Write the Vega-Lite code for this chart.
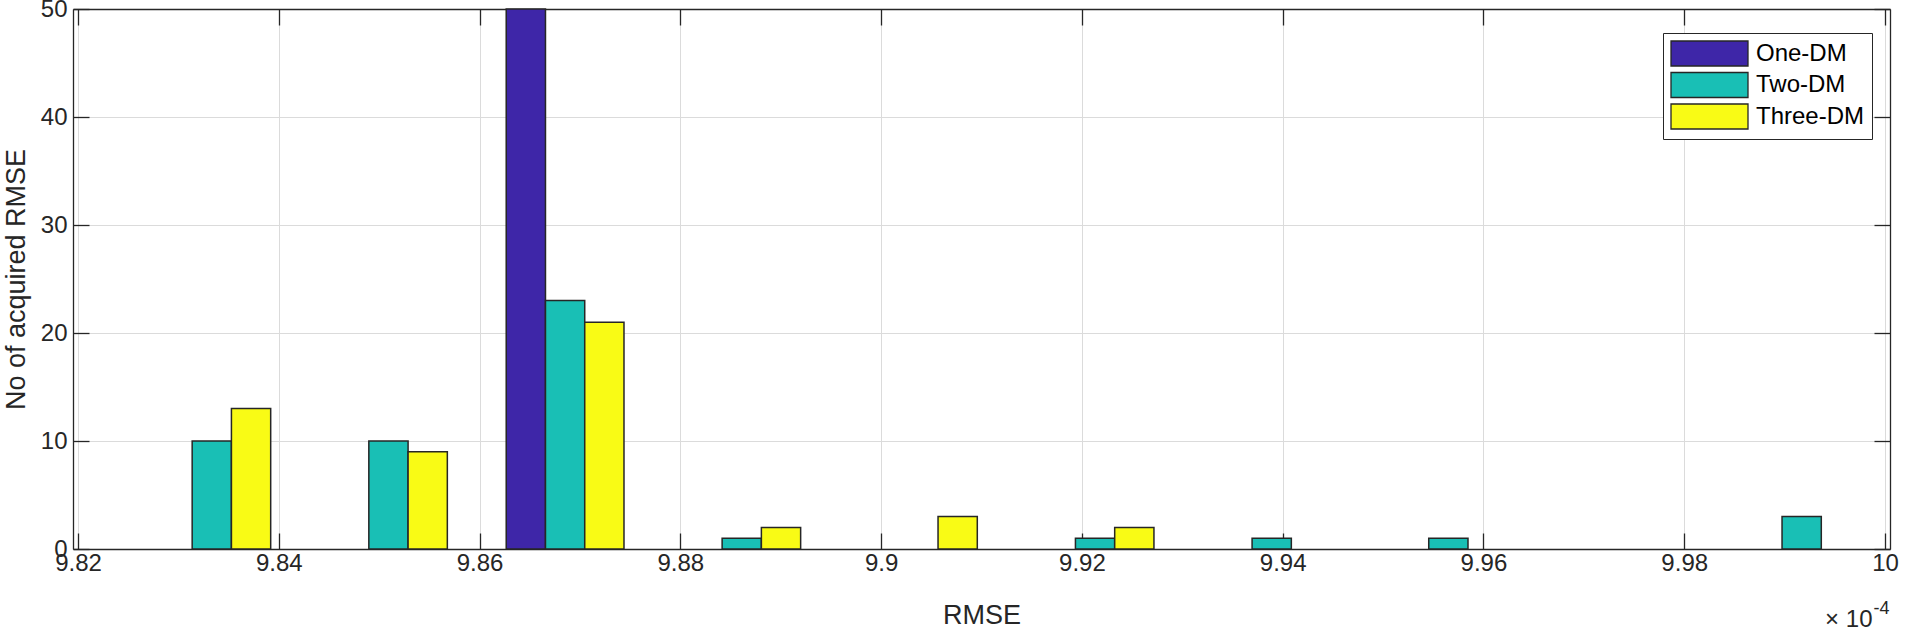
{
  "$schema": "https://vega.github.io/schema/vega-lite/v6.json",
  "width": 1817,
  "height": 540,
  "autosize": {"type": "none"},
  "padding": {"left": 73, "top": 9, "right": 15, "bottom": 79},
  "background": "white",
  "config": {
    "view": {"stroke": null},
    "font": "Liberation Sans",
    "axis": {
      "domainColor": "#262626",
      "domainWidth": 1.3,
      "tickColor": "#262626",
      "tickWidth": 1.3,
      "tickSize": -16,
      "labelFont": "Liberation Sans",
      "labelFontSize": 24,
      "labelColor": "#262626",
      "titleFont": "Liberation Sans",
      "titleFontSize": 27,
      "titleFontWeight": "normal",
      "titleColor": "#262626",
      "gridColor": "#DBDBDB",
      "gridWidth": 1
    }
  },
  "data": {
    "values": [
      {"rmse": 9.86875, "method": "One-DM", "count": 50},
      {"rmse": 9.83375, "method": "Two-DM", "count": 10},
      {"rmse": 9.85125, "method": "Two-DM", "count": 10},
      {"rmse": 9.86875, "method": "Two-DM", "count": 23},
      {"rmse": 9.88625, "method": "Two-DM", "count": 1},
      {"rmse": 9.92125, "method": "Two-DM", "count": 1},
      {"rmse": 9.93875, "method": "Two-DM", "count": 1},
      {"rmse": 9.95625, "method": "Two-DM", "count": 1},
      {"rmse": 9.99125, "method": "Two-DM", "count": 3},
      {"rmse": 9.83375, "method": "Three-DM", "count": 13},
      {"rmse": 9.85125, "method": "Three-DM", "count": 9},
      {"rmse": 9.86875, "method": "Three-DM", "count": 21},
      {"rmse": 9.88625, "method": "Three-DM", "count": 2},
      {"rmse": 9.90375, "method": "Three-DM", "count": 3},
      {"rmse": 9.92125, "method": "Three-DM", "count": 2}
    ]
  },
  "layer": [
    {
      "mark": {"type": "bar", "fillOpacity": 0, "strokeOpacity": 0},
      "encoding": {
        "x": {
          "field": "rmse", "type": "quantitative",
          "scale": {"domain": [9.82, 10], "nice": false, "zero": false},
          "axis": {"orient": "bottom", "title": "RMSE", "grid": true, "format": ".2~f",
                   "labelPadding": 18, "titlePadding": 27,
                   "values": [9.82, 9.84, 9.86, 9.88, 9.9, 9.92, 9.94, 9.96, 9.98, 10]}
        },
        "y": {
          "field": "count", "type": "quantitative", "stack": null,
          "scale": {"domain": [0, 50], "nice": false},
          "axis": {"orient": "left", "title": "No of acquired RMSE", "grid": true,
                   "labelPadding": 22, "titlePadding": 10,
                   "values": [0, 10, 20, 30, 40, 50]}
        }
      }
    },
    {
      "mark": {"type": "bar", "fillOpacity": 0, "strokeOpacity": 0},
      "encoding": {
        "x": {
          "field": "rmse", "type": "quantitative",
          "scale": {"domain": [9.82, 10], "nice": false, "zero": false},
          "axis": {"orient": "top", "labels": false, "grid": false,
                   "values": [9.82, 9.84, 9.86, 9.88, 9.9, 9.92, 9.94, 9.96, 9.98, 10],
                   "title": "-4", "titleAngle": 0, "titleAlign": "left",
                   "titleBaseline": "alphabetic", "titleX": 1800, "titleY": 604,
                   "titleFontSize": 18}
        },
        "y": {
          "field": "count", "type": "quantitative", "stack": null,
          "scale": {"domain": [0, 50], "nice": false},
          "axis": {"orient": "right", "labels": false, "grid": false,
                   "values": [0, 10, 20, 30, 40, 50],
                   "title": "× 10", "titleAngle": 0, "titleAlign": "right",
                   "titleBaseline": "alphabetic", "titleX": -18, "titleY": 617,
                   "titleFontSize": 24}
        }
      }
    },
    {
      "mark": {"type": "bar", "stroke": "#262626", "strokeWidth": 1.5},
      "encoding": {
        "x": {
          "field": "rmse", "type": "ordinal",
          "scale": {
            "domain": [9.83375, 9.85125, 9.86875, 9.88625, 9.90375, 9.92125, 9.93875, 9.95625, 9.97375, 9.99125],
            "range": [50.47, 1817],
            "paddingInner": 0.3333, "paddingOuter": 0.16667
          },
          "axis": null
        },
        "y": {
          "field": "count", "type": "quantitative", "stack": null,
          "scale": {"domain": [0, 50], "nice": false},
          "axis": null
        },
        "xOffset": {
          "field": "method", "type": "nominal",
          "scale": {"domain": ["One-DM", "Two-DM", "Three-DM"], "paddingInner": 0, "paddingOuter": 0}
        },
        "color": {
          "field": "method", "type": "nominal",
          "scale": {"domain": ["One-DM", "Two-DM", "Three-DM"], "range": ["#3E26A8", "#19BFB5", "#F9FB15"]},
          "legend": {
            "orient": "none", "legendX": 1590, "legendY": 24, "title": null,
            "symbolType": "M-3.08,-1H3.08V1H-3.08Z", "symbolSize": 625,
            "symbolStrokeColor": "#262626", "symbolStrokeWidth": 1.3,
            "symbolOffset": 26, "labelOffset": 33,
            "labelFont": "Liberation Sans", "labelFontSize": 24, "labelColor": "#000000",
            "strokeColor": "#262626", "fillColor": "white", "padding": 7, "rowPadding": 0.5
          }
        }
      }
    }
  ],
  "resolve": {"scale": {"x": "independent"}, "axis": {"x": "independent", "y": "independent"}}
}
